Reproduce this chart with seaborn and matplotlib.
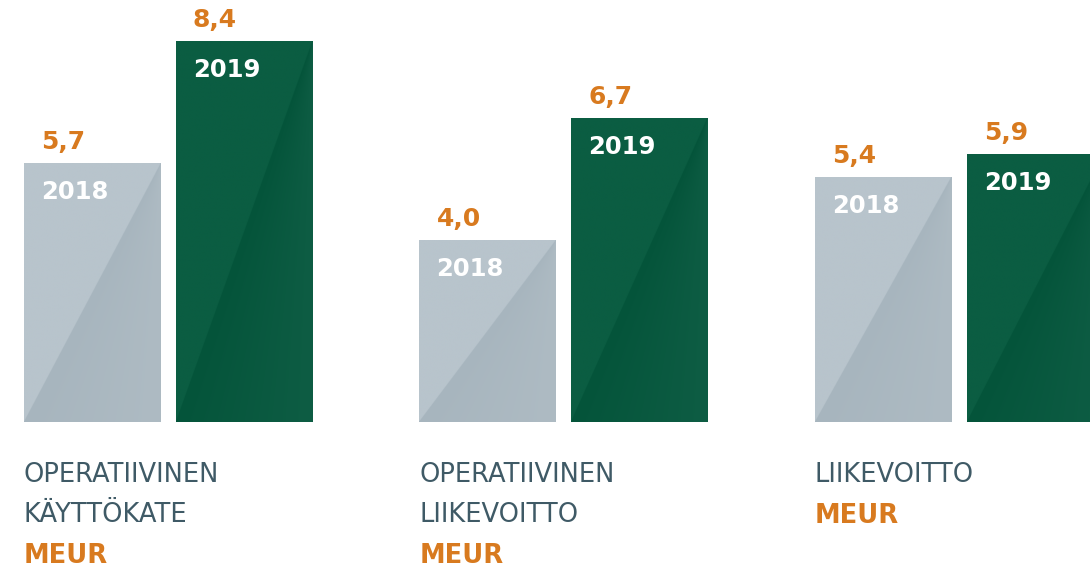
import numpy as np
import pandas as pd
import matplotlib
matplotlib.use("Agg")
import matplotlib.pyplot as plt
import matplotlib.colors as mcolors
import seaborn as sns

# values (MEUR)
categories = ["OPERATIIVINEN\nKÄYTTÖKATE", "OPERATIIVINEN\nLIIKEVOITTO", "LIIKEVOITTO"]
years = ["2018", "2019"]
v2018 = [5.7, 4.0, 5.4]
v2019 = [8.4, 6.7, 5.9]
unit = "MEUR"

orange = "#D87A1F"
slate = "#3F5A66"
bar_colors = {"2018": "#B2BFC7", "2019": "#0A5A40"}
# (upper-left, lower-right near diagonal, lower-right at edge)
shades = {"2018": ("#B8C4CC", "#A7B5BE", "#AEBBC3"),
          "2019": ("#0B5D42", "#04543A", "#0E5D44")}

df = pd.DataFrame({
    "kategoria": categories * 2,
    "vuosi": [years[0]] * 3 + [years[1]] * 3,
    "arvo": v2018 + v2019,
})

sns.set_theme(style="white")
plt.rcParams["font.family"] = ["DejaVu Sans"]

fig = plt.figure(figsize=(10.9, 5.67), dpi=100)
ax = fig.add_axes([0, 0, 1, 1])

sns.barplot(data=df, x="kategoria", y="arvo", hue="vuosi", palette=bar_colors,
            width=0.7686, gap=0.105, saturation=1, legend=False, errorbar=None, ax=ax)

ax.set_xlim(-168 / 395.5, (1090 - 168) / 395.5)
ax.set_ylim(-145 / 45.4, 422 / 45.4)
ax.axis("off")


def shade_bar(bar, c_ul, c_diag, c_edge):
    x0, y0 = bar.get_x(), bar.get_y()
    w, h = bar.get_width(), bar.get_height()
    n = 300
    u = np.linspace(0, 1, n)[None, :]
    v = np.linspace(0, 1, n)[:, None]
    a = np.array(mcolors.to_rgb(c_ul))
    b = np.array(mcolors.to_rgb(c_diag))
    c = np.array(mcolors.to_rgb(c_edge))
    t = np.clip((u - v) / np.maximum(1 - v, 1e-3), 0, 1)[..., None]
    lower = b * (1 - t) + c * t
    upper = a * np.ones_like(lower)
    img = np.where((u < v)[..., None], upper, lower)
    im = ax.imshow(img, extent=(x0, x0 + w, y0, y0 + h), origin="lower",
                   aspect="auto", interpolation="bilinear", zorder=bar.get_zorder() + 0.1)
    im.set_clip_path(bar)


for year, cont in zip(years, ax.containers):
    for bar, val in zip(cont, cont.datavalues):
        shade_bar(bar, *shades[year])
        x0, top = bar.get_x(), bar.get_height()
        ax.annotate(f"{val:.1f}".replace(".", ","), xy=(x0, top), xytext=(17, 14),
                    textcoords="offset pixels", ha="left", va="baseline",
                    color=orange, fontsize=18, fontweight="bold", zorder=5)
        ax.annotate(year, xy=(x0, top), xytext=(17, -36),
                    textcoords="offset pixels", ha="left", va="baseline",
                    color="white", fontsize=17.5, fontweight="bold", zorder=5)

# category captions under the 2018 bars
for cat, bar in zip(categories, ax.containers[0]):
    lines = cat.split("\n")
    x0 = bar.get_x()
    for i, line in enumerate(lines):
        ax.annotate(line, xy=(x0, 0), xycoords="data", xytext=(0, -60 - 40 * i),
                    textcoords="offset pixels", ha="left", va="baseline",
                    color=slate, fontsize=18.5)
    ax.annotate(unit, xy=(x0, 0), xytext=(0, -60 - 40 * len(lines) - 1),
                textcoords="offset pixels", ha="left", va="baseline",
                color=orange, fontsize=18.5, fontweight="bold")

fig.savefig("out.png", dpi=100, facecolor="white")
